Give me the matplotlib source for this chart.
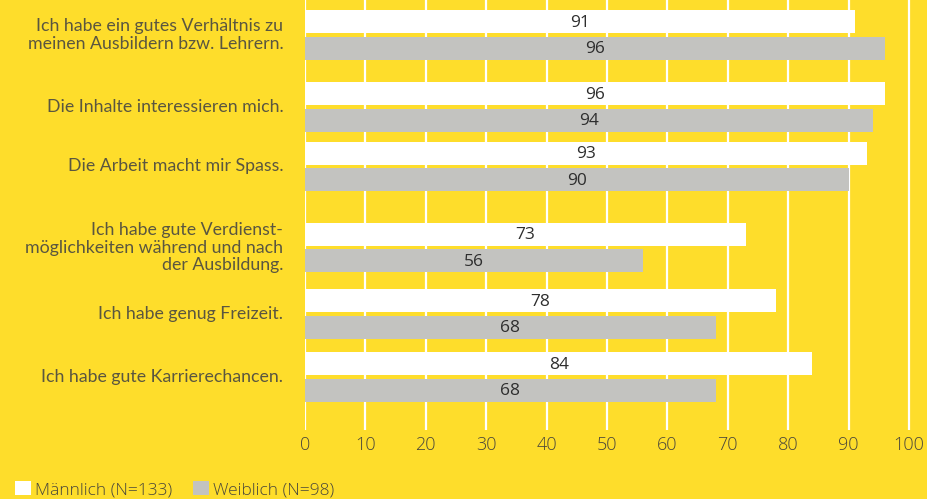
import matplotlib.pyplot as plt
from matplotlib.patches import Patch

categories = [
    "Ich habe ein gutes Verhältnis zu\nmeinen Ausbildern bzw. Lehrern.",
    "Die Inhalte interessieren mich.",
    "Die Arbeit macht mir Spass.",
    "Ich habe gute Verdienst-\nmöglichkeiten während und nach\nder Ausbildung.",
    "Ich habe genug Freizeit.",
    "Ich habe gute Karrierechancen.",
]
maennlich = [91, 96, 93, 73, 78, 84]
weiblich = [96, 94, 90, 56, 68, 68]
ticks = [0, 10, 20, 30, 40, 50, 60, 70, 80, 90, 100]
legend_labels = ["Männlich (N=133)", "Weiblich (N=98)"]

# layout (pixel rows of the group centres)
group_y = [35, 107, 166.5, 247.5, 314, 377]
bar_h = 23
off = 13.3

yellow = "#FEDD2B"
grey = "#C3C3C0"
txt = "#4A473A"

fig = plt.figure(figsize=(9.28, 4.99), dpi=100)
fig.patch.set_facecolor(yellow)
ax = fig.add_axes([305 / 928, 1 - 430 / 499, 101 * 6.04 / 928, 430 / 499])
ax.set_facecolor(yellow)

for x in ticks:
    ax.axvline(x, color="white", lw=1.6, zorder=0)

yw = [g - off for g in group_y]
yg = [g + off for g in group_y]
ax.barh(yw, maennlich, height=bar_h, color="white", zorder=2)
ax.barh(yg, weiblich, height=bar_h, color=grey, zorder=2)

for y, v in zip(yw, maennlich):
    ax.text(v / 2, y + 1, str(v), ha="center", va="center", fontsize=12.5,
            family="Open Sans", color="#2E2E2E", zorder=3)
for y, v in zip(yg, weiblich):
    ax.text(v / 2, y + 1, str(v), ha="center", va="center", fontsize=12.5,
            family="Open Sans", color="#2E2E2E", zorder=3)

for y, c in zip(group_y, categories):
    ax.text(-3.6, y, c, ha="right", va="center", fontsize=12.8, family="Lato",
            color="#5A5640", linespacing=1.15)

ax.set_xlim(0, 101)
ax.set_ylim(430, 0)
ax.set_yticks([])
ax.set_xticks(ticks)
ax.set_xticklabels([str(t) for t in ticks], family="Open Sans", weight="light",
                   fontsize=13, color=txt)
ax.tick_params(axis="x", length=0, pad=4)
for s in ax.spines.values():
    s.set_visible(False)

handles = [Patch(facecolor="white", edgecolor="none"),
           Patch(facecolor=grey, edgecolor="none")]
leg = fig.legend(handles, legend_labels, loc="lower left", bbox_to_anchor=(0.009, -0.012),
                 ncol=2, frameon=False, handlelength=0.9, handleheight=0.9,
                 handletextpad=0.25, columnspacing=1.2, borderaxespad=0,
                 prop={"family": "Open Sans", "weight": "light", "size": 12.5})
for t in leg.get_texts():
    t.set_color(txt)

fig.savefig("out.png", dpi=100, facecolor=yellow)
